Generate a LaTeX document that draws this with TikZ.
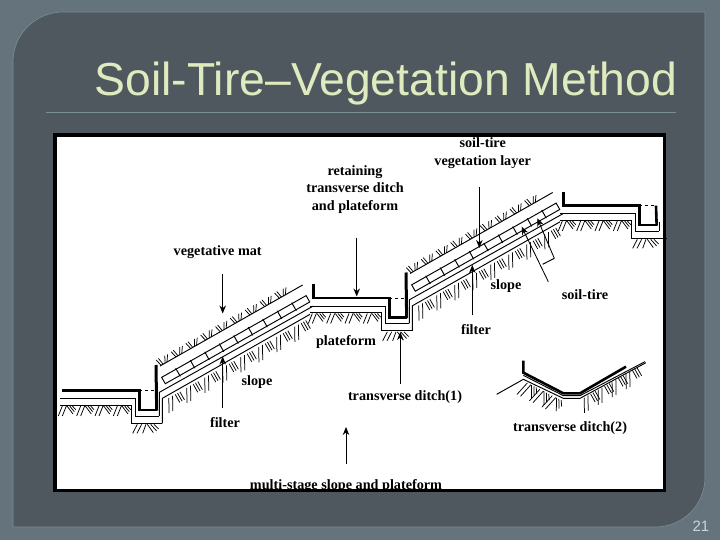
\documentclass[tikz,border=0pt]{standalone}
\usepackage{fontspec}
\setmainfont{Liberation Serif}
\newfontfamily\titlefont{Liberation Sans}
\usetikzlibrary{arrows.meta}
\definecolor{bgout}{HTML}{65747C}
\definecolor{panel}{HTML}{50585F}
\definecolor{edgec}{HTML}{7C8E96}
\definecolor{titlec}{HTML}{DFEBBE}
\definecolor{numc}{HTML}{C9D6DA}
\tikzset{
  lbl/.style={font=\fontsize{14.2}{17.3}\selectfont\bfseries,align=center,inner sep=0pt,text=black},
  thinl/.style={line width=0.95pt,black},
  thickl/.style={line width=2.6pt,black,line join=miter},
  hatchl/.style={line width=0.75pt,black},
  leader/.style={line width=0.85pt,black,-{Stealth[length=8pt,width=6.5pt]}}
}
% flat hatch group at x,y (top)
\newcommand\hatchgroup[2]{%
  \draw[hatchl] (#1+12,#2)--(#1,#2+30) (#1+24,#2)--(#1+12,#2+30)
    (#1+26,#2)--(#1+44,#2+24) (#1+34,#2)--(#1+48,#2+17) (#1+42,#2)--(#1+52,#2+11);}
% slope hatch group at along-slope position t
\newcommand\slopegroup[1]{%
  \draw[hatchl] (#1,2)--(#1-22,42) (#1+13,2)--(#1-9,42)
    (#1+22,2)--(#1+22,30) (#1+30,2)--(#1+30,30) (#1+38,2)--(#1+38,30);}
\newcommand\tuft[1]{%
  \draw[hatchl] (#1,0)--(#1-5,-21) (#1+7,0)--(#1+3,-22) (#1+13,0)--(#1+24,-20) (#1+20,0)--(#1+33,-19);}
\newcommand\plateaubase{%
  \draw[thickl] (37,782)--(268,782)--(268,840)--(322,840);
  \draw[dashed,thinl] (268,782)--(318,782);
  \draw[thinl] (30,806)--(255,806)--(255,858)--(328,858);
  \draw[thinl] (30,825)--(245,825)--(245,880)--(337,880);
  \foreach \hx in {25,80,135,190} {\hatchgroup{\hx}{828}}
  \draw[hatchl] (262,883)--(248,910) (275,883)--(261,910) (288,883)--(278,910)
    (292,883)--(310,908) (302,883)--(320,903) (312,883)--(326,897);
}
\newcommand\slopepart{%
  \draw[line width=3pt,black] (320,842)--(318,705);
  \draw[thinl] (328,858)--(328,787)--(790,528);
  \draw[thinl] (337,880)--(337,805)--(780,553);
  \draw[thinl] (330,708)--(758,465);
  \begin{scope}[shift={(330,708)},rotate=29.5]
    \foreach \t in {4,55,...,440} {\tuft{\t}}
  \end{scope}
  \begin{scope}[shift={(335,742)},rotate=29.5]
    \draw[thinl] (0,0) rectangle (498,22);
    \foreach \t in {50,100,...,450} {\draw[thinl] (\t,-3)--(\t,25);}
  \end{scope}
  \begin{scope}[shift={(345,808)},rotate=29.5]
    \foreach \t in {12,74,...,450} {\slopegroup{\t}}
  \end{scope}
}
\begin{document}
\begin{tikzpicture}[x=1pt,y=-1pt]
\useasboundingbox (0,0) rectangle (720,540);
\fill[bgout] (0,0) rectangle (720,540);
\path[fill=panel,draw=edgec,line width=0.6pt] (13,62) .. controls (13,34.4) and (35.4,12) .. (63,12) -- (705,12) -- (705,477) .. controls (705,505) and (683,527) .. (655,527) -- (13,527) -- cycle;
\node[anchor=base west,inner sep=0pt,text=titlec,font=\titlefont\fontsize{46.3}{50}\selectfont] (title) at (94.5,96) {Soil-Tire–Vegetation Method};
\coordinate (ruleL) at (46,112.7);
\coordinate (ruleR) at (676,112.7);
\draw[edgec,line width=0.7pt] (ruleL)--(ruleR);
\fill[white] (55,135) rectangle (664.5,490.5);
\begin{scope}[shift={(50,130)},scale=1/3]
  \plateaubase
  \slopepart
  \begin{scope}[shift={(750,-277.5)}]
    \plateaubase
    \slopepart
    \draw[line width=3pt,black] (40,740)--(40,784);
  \end{scope}
  \begin{scope}[shift={(1500,-555)}]
    \plateaubase
    \draw[line width=3pt,black] (40,740)--(40,784);
    \draw[thickl] (320,842)--(318,782);
    \draw[thinl] (328,858)--(328,830);
    \draw[thinl] (337,880)--(352,880);
  \end{scope}
\end{scope}
% transverse ditch (2) inset
\begin{scope}[shift={(350,130)},scale=1/3]
  \draw[line width=2.6pt,black] (520,692)--(520,728)--(640,790)--(690,790)--(828,710);
  \draw[thinl] (520,736)--(640,797)--(690,797)--(885,695);
  \draw[thinl] (440,793)--(520,748)--(640,805)--(690,805)--(888,698);
  \begin{scope}[shift={(522,752)},rotate=-27,yscale=1.5]
    \hatchgroup{0}{1}\hatchgroup{42}{1}\hatchgroup{84}{1}
  \end{scope}
  \begin{scope}[shift={(700,802)},rotate=29.5]
    \foreach \t in {2,50,98,146} {\slopegroup{\t}}
  \end{scope}
\end{scope}
% labels
\node[lbl] (veglayer) at (482.7,153) {soil-tire\\vegetation layer};
\node[lbl] (retain) at (355,189.5) {retaining\\transverse ditch\\and plateform};
\node[lbl] (vegmat) at (217.7,252) {vegetative mat};
\node[lbl] (platef) at (346,342) {plateform};
\node[lbl] (slopeA) at (257,381.7) {slope};
\node[lbl] (filterA) at (225,423) {filter};
\node[lbl] (ditchA) at (405,397) {transverse ditch(1)};
\node[lbl] (multi) at (346,486) {multi-stage slope and plateform};
\node[lbl] (slopeB) at (506,286) {slope};
\node[lbl] (soiltire) at (585,295) {soil-tire};
\node[lbl] (filterB) at (476,330) {filter};
\node[lbl] (ditchB) at (570,428) {transverse ditch(2)};
% arrow ends
\coordinate (vegmatS) at (222.7,274);
\coordinate (vegmatE) at (222.7,313.5);
\coordinate (filterAS) at (222.7,407.5);
\coordinate (filterAE) at (222.7,356.5);
\coordinate (retainS) at (356.7,237.5);
\coordinate (retainE) at (356.7,296.5);
\coordinate (multiS) at (346,464);
\coordinate (multiE) at (346,427);
\coordinate (ditchAS) at (400.3,383.5);
\coordinate (ditchAE) at (400.3,332);
\coordinate (veglS) at (479.3,187.5);
\coordinate (veglE) at (479.3,248);
\coordinate (filterBS) at (472.3,315);
\coordinate (filterBE) at (472.3,265);
\coordinate (stA) at (548.3,281.7);
\coordinate (stAE) at (521.7,226.7);
\coordinate (stB) at (554.3,258.3);
\coordinate (stBE) at (537.3,218.3);
\coordinate (stC) at (542.7,264.3);
\draw[leader] (vegmatS)--(vegmatE);
\draw[leader] (filterAS)--(filterAE);
\draw[leader] (retainS)--(retainE);
\draw[leader] (multiS)--(multiE);
\draw[leader] (ditchAS)--(ditchAE);
\draw[leader] (veglS)--(veglE);
\draw[leader] (filterBS)--(filterBE);
\draw[leader] (stA)--(stAE);
\draw[leader] (stB)--(stBE);
\draw[thinl] (stC)--(stB);
% picture frame on top
\draw[black,line width=3.6pt] (55.2,135) rectangle (664.5,490.5);
\node[anchor=base east,inner sep=0pt,text=numc,font=\titlefont\fontsize{15}{18}\selectfont] (pageno) at (709.5,531) {21};
\end{tikzpicture}
\end{document}
